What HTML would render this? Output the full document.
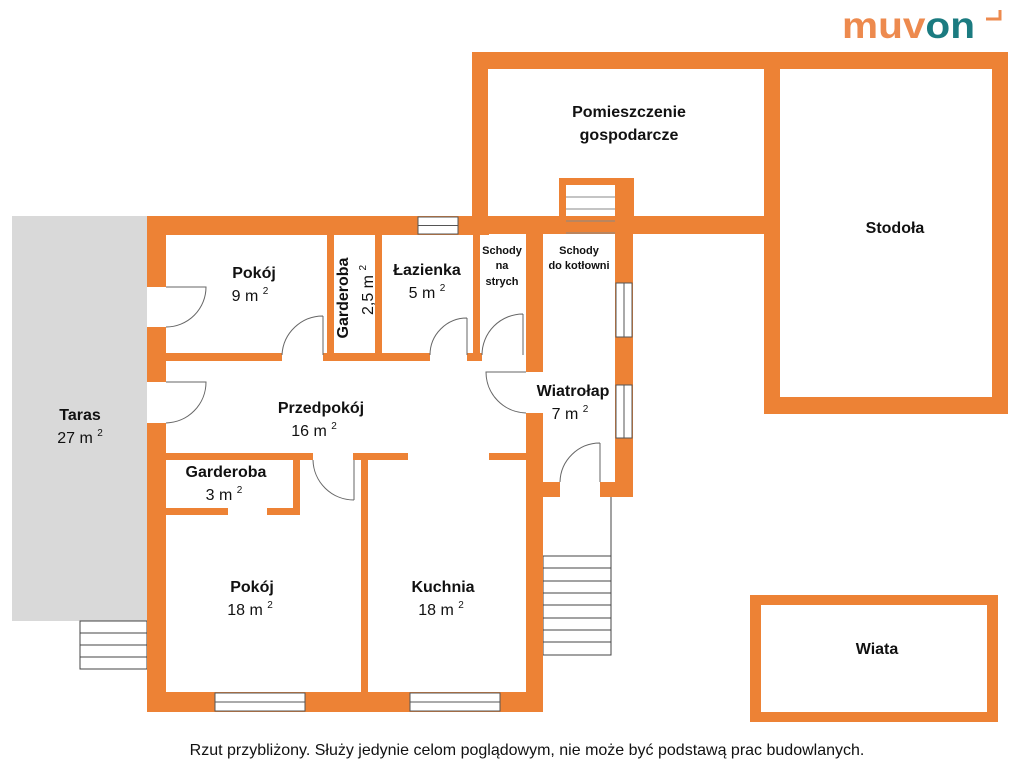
<!DOCTYPE html>
<html><head><meta charset="utf-8"><style>
html,body{margin:0;padding:0;background:#fff;width:1024px;height:768px;overflow:hidden}
svg{display:block}
text{font-family:"Liberation Sans",sans-serif;fill:#111}
.b{font-weight:bold;font-size:16px}
.n{font-size:16px}
.s{font-weight:bold;font-size:11px}
.sup{font-size:10px}
</style></head><body>
<svg width="1024" height="768" viewBox="0 0 1024 768" xmlns="http://www.w3.org/2000/svg">
<rect x="12" y="216" width="135" height="405" fill="#d9d9d9"/>
<g fill="none" stroke="#444" stroke-width="1">
<rect x="80" y="621" width="67" height="48"/>
<line x1="80" y1="633" x2="147" y2="633"/><line x1="80" y1="645" x2="147" y2="645"/><line x1="80" y1="657" x2="147" y2="657"/>
<rect x="543" y="556" width="68" height="99"/>
<line x1="543" y1="568" x2="611" y2="568"/><line x1="543" y1="581" x2="611" y2="581"/><line x1="543" y1="593" x2="611" y2="593"/><line x1="543" y1="605" x2="611" y2="605"/><line x1="543" y1="618" x2="611" y2="618"/><line x1="543" y1="630" x2="611" y2="630"/><line x1="543" y1="642" x2="611" y2="642"/>
<line x1="611" y1="497" x2="611" y2="556"/>
</g>
<g fill="#ED8235">
<rect x="472" y="52" width="536" height="17"/>
<rect x="472" y="52" width="16" height="182"/>
<rect x="764" y="52" width="16" height="362"/>
<rect x="992" y="52" width="16" height="362"/>
<rect x="764" y="397" width="244" height="17"/>
<rect x="472" y="216" width="308" height="18"/>
<rect x="559" y="178" width="75" height="7"/>
<rect x="559" y="178" width="7" height="56"/>
<rect x="615" y="178" width="19" height="56"/>
<rect x="147" y="216" width="342" height="19"/>
<rect x="147" y="216" width="19" height="71"/>
<rect x="147" y="327" width="19" height="55"/>
<rect x="147" y="423" width="19" height="289"/>
<rect x="147" y="692" width="396" height="20"/>
<rect x="526" y="234" width="17" height="138"/>
<rect x="526" y="413" width="17" height="299"/>
<rect x="615" y="234" width="18" height="263"/>
<rect x="543" y="482" width="17" height="15"/>
<rect x="600" y="482" width="33" height="15"/>
<rect x="327" y="235" width="7" height="126"/>
<rect x="375" y="235" width="7" height="126"/>
<rect x="473" y="235" width="7" height="126"/>
<rect x="166" y="353" width="116" height="8"/>
<rect x="323" y="353" width="107" height="8"/>
<rect x="467" y="353" width="15" height="8"/>
<rect x="166" y="453" width="147" height="7"/>
<rect x="353" y="453" width="55" height="7"/>
<rect x="489" y="453" width="37" height="7"/>
<rect x="293" y="459" width="7" height="56"/>
<rect x="166" y="508" width="62" height="7"/>
<rect x="267" y="508" width="33" height="7"/>
<rect x="361" y="459" width="7" height="233"/>
<rect x="750" y="595" width="248" height="10"/>
<rect x="750" y="712" width="248" height="10"/>
<rect x="750" y="595" width="11" height="127"/>
<rect x="987" y="595" width="11" height="127"/>
</g>
<g fill="#fff" stroke="#555" stroke-width="1">
<rect x="418" y="217" width="40" height="17"/><line x1="418" y1="225.5" x2="458" y2="225.5"/>
<rect x="215" y="693" width="90" height="18"/><line x1="215" y1="702" x2="305" y2="702"/>
<rect x="410" y="693" width="90" height="18"/><line x1="410" y1="702" x2="500" y2="702"/>
<rect x="616" y="283" width="16" height="54"/><line x1="624" y1="283" x2="624" y2="337"/>
<rect x="616" y="385" width="16" height="53"/><line x1="624" y1="385" x2="624" y2="438"/>
</g>
<g stroke="#888" stroke-width="1">
<line x1="566" y1="197" x2="615" y2="197"/><line x1="566" y1="209" x2="615" y2="209"/><line x1="566" y1="221" x2="615" y2="221"/><line x1="566" y1="233" x2="615" y2="233"/>
</g>
<g fill="none" stroke="#666" stroke-width="1">
<path d="M166 287 H206 A40 40 0 0 1 166 327"/>
<path d="M166 382 H206 A41 41 0 0 1 166 423"/>
<path d="M323 316 V355 M282 355 A41 41 0 0 1 323 316"/>
<path d="M467 318 V355 M430 355 A37 37 0 0 1 467 318"/>
<path d="M523 314 V355 M482 355 A41 41 0 0 1 523 314"/>
<path d="M526 372 H486 A41 41 0 0 0 526 413"/>
<path d="M354 460 V500 M313 460 A41 41 0 0 0 354 500"/>
<path d="M600 443 V482 M560 482 A40 40 0 0 1 600 443"/>
</g>
<g text-anchor="middle">
<text class="b" x="254" y="278">Pokój</text>
<text class="n" x="250" y="301">9 m <tspan class="sup" dy="-7">2</tspan></text>
<text class="b" transform="translate(348,298) rotate(-90)">Garderoba</text>
<text class="n" transform="translate(373,290) rotate(-90)">2,5 m <tspan class="sup" dy="-7">2</tspan></text>
<text class="b" x="427" y="275">Łazienka</text>
<text class="n" x="427" y="298">5 m <tspan class="sup" dy="-7">2</tspan></text>
<text class="s" x="502" y="254">Schody</text>
<text class="s" x="502" y="269">na</text>
<text class="s" x="502" y="285">strych</text>
<text class="s" x="579" y="254">Schody</text>
<text class="s" x="579" y="269">do kotłowni</text>
<text class="b" x="629" y="117">Pomieszczenie</text>
<text class="b" x="629" y="140">gospodarcze</text>
<text class="b" x="895" y="233">Stodoła</text>
<text class="b" x="573" y="396">Wiatrołap</text>
<text class="n" x="570" y="419">7 m <tspan class="sup" dy="-7">2</tspan></text>
<text class="b" x="321" y="413">Przedpokój</text>
<text class="n" x="314" y="436">16 m <tspan class="sup" dy="-7">2</tspan></text>
<text class="b" x="80" y="420">Taras</text>
<text class="n" x="80" y="443">27 m <tspan class="sup" dy="-7">2</tspan></text>
<text class="b" x="226" y="477">Garderoba</text>
<text class="n" x="224" y="500">3 m <tspan class="sup" dy="-7">2</tspan></text>
<text class="b" x="252" y="592">Pokój</text>
<text class="n" x="250" y="615">18 m <tspan class="sup" dy="-7">2</tspan></text>
<text class="b" x="443" y="592">Kuchnia</text>
<text class="n" x="441" y="615">18 m <tspan class="sup" dy="-7">2</tspan></text>
<text class="b" x="877" y="654">Wiata</text>
<text x="527" y="755" style="font-size:16px">Rzut przybliżony. Służy jedynie celom poglądowym, nie może być podstawą prac budowlanych.</text>
</g>
<text x="842" y="38" style="font-size:37px;font-weight:bold" textLength="133" lengthAdjust="spacingAndGlyphs"><tspan style="fill:#ED8A4E">muv</tspan><tspan style="fill:#1B7B80">on</tspan></text>
<path d="M986 19 H1000 V10" fill="none" stroke="#ED8A4E" stroke-width="3"/>
</svg>
</body></html>
